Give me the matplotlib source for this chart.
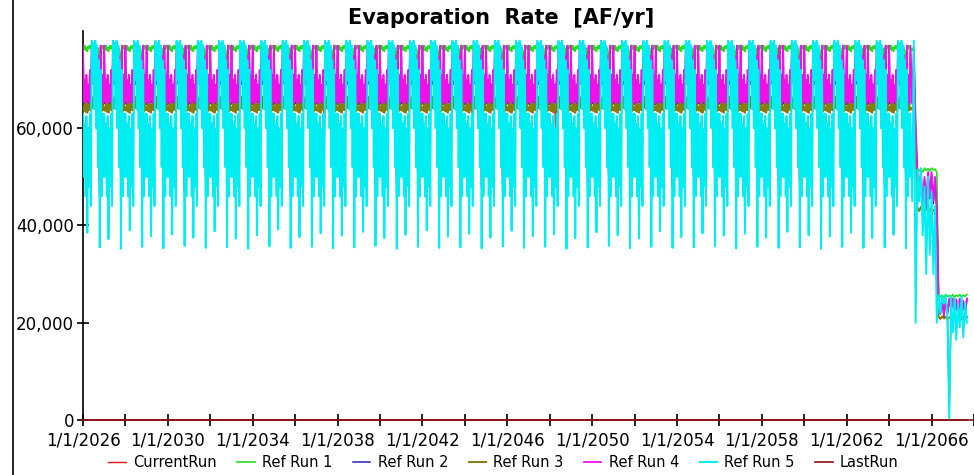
import numpy as np
import matplotlib
matplotlib.use("Agg")
import matplotlib.pyplot as plt
from matplotlib.lines import Line2D
from datetime import datetime

# ---------------- data (AF/yr) ----------------
# regular years, semi-monthly values (index 0 = Jan 1, 1 = Jan 16, ...)
years = list(range(2026, 2065))

cyan_profile = [63000, 50000, 61000, 46000, 62500, 37500, 60000, 48000,
                63000, 44000, 78000, 70000, 77500, 64000, 78000, 60000,
                77000, 52000, 74000, 35500, 72000, 46000, 63000, 50000]
magenta_profile = [77000, 65500, 70000, 65200, 71000, 65800, 69000, 65300,
                   72000, 65500, 77000, 77500, 70000, 76000, 66000, 77000,
                   64000, 75000, 60000, 50000, 77000, 65500, 71000, 65200]
blue_profile = [76800, 65000, 69000, 64800, 70000, 65200, 68000, 64800,
                71000, 65000, 76500, 77000, 69000, 75000, 65000, 76500,
                63000, 74000, 58000, 48000, 76500, 65000, 70000, 64800]
green_profile = [76800, 76200, 77000, 76000, 76600, 75800, 76900, 76400,
                 77000, 76300, 77200, 76600, 77500, 76800, 76200, 77000,
                 76000, 76500, 75600, 60000, 76800, 76200, 77000, 76500]
olive_profile = [64300, 63600, 65200, 63400, 65500, 63200, 64800, 63800,
                 65800, 63600, 66000, 64200, 66500, 64000, 65500, 63600,
                 65200, 63500, 64400, 56000, 65000, 63500, 65300, 63700]

# year-to-year lows
cyan_deep = [35500, 35200, 35600, 35300, 35800, 35400, 35500, 35200, 35700, 35400,
             35600, 35300, 35500, 35800, 35200, 35600, 35400, 35500, 35300, 35700,
             35400, 35600, 35200, 35500, 35800, 35300, 35600, 35400, 35500, 35700,
             35300, 35600, 35400, 35500, 35200, 35600, 35400, 35500, 35300]
cyan_short = [38500, 37200, 39000, 37800, 38200, 37500, 38800, 37300, 38000, 39200,
              37600, 38400, 37900, 38700, 37400, 38100, 39000, 37700, 38300, 37500,
              38900, 37800, 38200, 37400, 38600, 38000, 37300, 38800, 37600, 38400,
              37900, 38300, 37500, 38700, 38000, 37700, 38500, 37400, 38100]
magenta_low = [46000, 55000, 52000, 58000, 47000, 54000, 60000, 50000, 56000, 45000,
               53000, 57000, 49000, 60000, 46000, 55000, 58000, 51000, 52000, 47000,
               59000, 54000, 45000, 56000, 50000, 53000, 60000, 48000, 55000, 57000,
               46000, 52000, 58000, 49000, 54000, 47000, 56000, 59000, 50000]

# CurrentRun spikes: (year, half-month index, value)
red_spikes = [(2044, 9, 51000), (2048, 7, 52000), (2037, 9, 57000)]

# tail, monthly from Jan 2065 to Sep 2067
tail_cyan = [63000, 45000, 78000, 20000, 51500, 45000, 51800, 38000, 48000, 30000,
             50000, 34000, 47000, 30000, 44000, 20000, 25700, 22000, 25500, 24000,
             25700, 21000, 0, 25500, 18000, 25000, 16500, 24000, 19000, 25500,
             17000, 24000, 20000]
tail_magenta = [77000, 65500, 76000, 60000, 51000, 46000, 51400, 43000, 50000, 44000,
                51000, 46000, 51000, 45000, 50000, 43000, 25000, 22000, 25200, 21500,
                25000, 22000, 25000, 23000, 25000, 21000, 24800, 22000, 25000, 21500,
                24500, 22000, 25000]
tail_blue = [76000, 65000, 74000, 58000, 50500, 45000, 51000, 42800, 49500, 43500,
             50500, 45500, 50500, 44500, 49500, 42800, 24800, 21800, 25000, 21200,
             24800, 21800, 24800, 22800, 24800, 20800, 24600, 21800, 24800, 21200,
             24300, 21800, 24800]
tail_green = [76500, 76000, 76800, 62000, 51800, 51200, 51600, 51000, 51800, 51300,
              51700, 51200, 51800, 51400, 51600, 51000, 25800, 25300, 25700, 25200,
              25800, 25400, 25600, 25300, 25800, 25200, 25700, 25400, 25800, 25300,
              25700, 25400, 25800]
tail_olive = [64300, 63800, 65000, 58000, 43500, 43000, 43800, 42800, 43500, 43100,
              43600, 42900, 43500, 43000, 43400, 42800, 21200, 20800, 21300, 20900,
              21200, 20800, 21100, 20900, 21200, 20800, 21100, 20900, 21200, 20800,
              21100, 20900, 21200]
tail_red = [64300, 63800, 65000, 58000, 43500, 43000, 43800, 42800, 43500, 43100,
            43600, 42900, 43500, 43000, 43400, 42800, 21200, 20800, 21300, 20900,
            21200, 20800, 2000, 20900, 21200, 20800, 21100, 20900, 21200, 20800,
            21100, 20900, 21200]

# ---------------- build series ----------------
dates = []
for y in years:
    for k in range(24):
        dates.append(datetime(y, 1 + k // 2, 1 if k % 2 == 0 else 16))
tail_dates = [datetime(2065 + m // 12, 1 + m % 12, 1) for m in range(len(tail_cyan))]


def build(profile, tail, low=None, low_idx=None, low2=None, low2_idx=None):
    vals = []
    for i, y in enumerate(years):
        p = list(profile)
        if low is not None:
            p[low_idx] = low[i]
        if low2 is not None:
            p[low2_idx] = low2[i]
        vals.extend(p)
    return np.array(vals + tail, dtype=float)


all_dates = dates + tail_dates
s_cyan = build(cyan_profile, tail_cyan, cyan_deep, 19, cyan_short, 5)
s_mag = build(magenta_profile, tail_magenta, magenta_low, 19)
s_blue = build(blue_profile, tail_blue)
s_green = build(green_profile, tail_green)
s_olive = build(olive_profile, tail_olive)
s_red = build(olive_profile, tail_red)
for (y, k, v) in red_spikes:
    s_red[(y - years[0]) * 24 + k] = v
s_last = np.zeros(len(all_dates))

series = [
    ("CurrentRun", s_red, "#e8141c", 1.0),
    ("Ref Run 1", s_green, "#22e01a", 1.2),
    ("Ref Run 2", s_blue, "#2a1fb8", 1.1),
    ("Ref Run 3", s_olive, "#8a7a10", 1.4),
    ("Ref Run 4", s_mag, "#f010e8", 1.3),
    ("Ref Run 5", s_cyan, "#00eef2", 1.4),
    ("LastRun", s_last, "#8b1010", 1.2),
]

# ---------------- plot ----------------
fig = plt.figure(figsize=(9.74, 4.75), dpi=100)
ax = fig.add_axes([83 / 974, 55 / 475, 1 - 83 / 974, 389 / 475])

for i, (name, vals, col, lw) in enumerate(series):
    ax.plot(all_dates, vals, color=col, lw=lw, label=name, zorder=2 + i,
            clip_on=(name != "LastRun"))

ax.set_xlim(datetime(2026, 1, 1), datetime(2067, 8, 10))
ax.set_ylim(0, 80000)

major = [datetime(y, 1, 1) for y in range(2026, 2070, 4)]
minor = [datetime(y, 1, 1) for y in range(2028, 2070, 4)]
ax.set_xticks(major)
ax.set_xticklabels([f"1/1/{d.year}" for d in major])
ax.set_xticks(minor, minor=True)
ax.set_yticks([0, 20000, 40000, 60000])
ax.set_yticklabels(["0", "20,000", "40,000", "60,000"])

ax.tick_params(axis="both", which="both", direction="inout", length=9,
               width=1.2, labelsize=12, pad=2)
ax.tick_params(axis="x", pad=3.5)
for side in ["top", "right"]:
    ax.spines[side].set_visible(False)
ax.spines["left"].set_linewidth(1.2)
ax.spines["bottom"].set_color("#8b1010")
ax.spines["bottom"].set_linewidth(1.2)

fig.text(0.515, 0.962, "Evaporation  Rate  [AF/yr]", ha="center", va="center",
         fontsize=15, fontweight="bold")

fig.legend(loc="center", bbox_to_anchor=(0.517, 0.027), ncol=7, frameon=False,
           handlelength=1.2, handletextpad=0.5, columnspacing=1.4, fontsize=10.5)

fig.add_artist(Line2D([12.5 / 974, 12.5 / 974], [0, 1], color="black", lw=1.2))

fig.savefig("out.png", dpi=100)
